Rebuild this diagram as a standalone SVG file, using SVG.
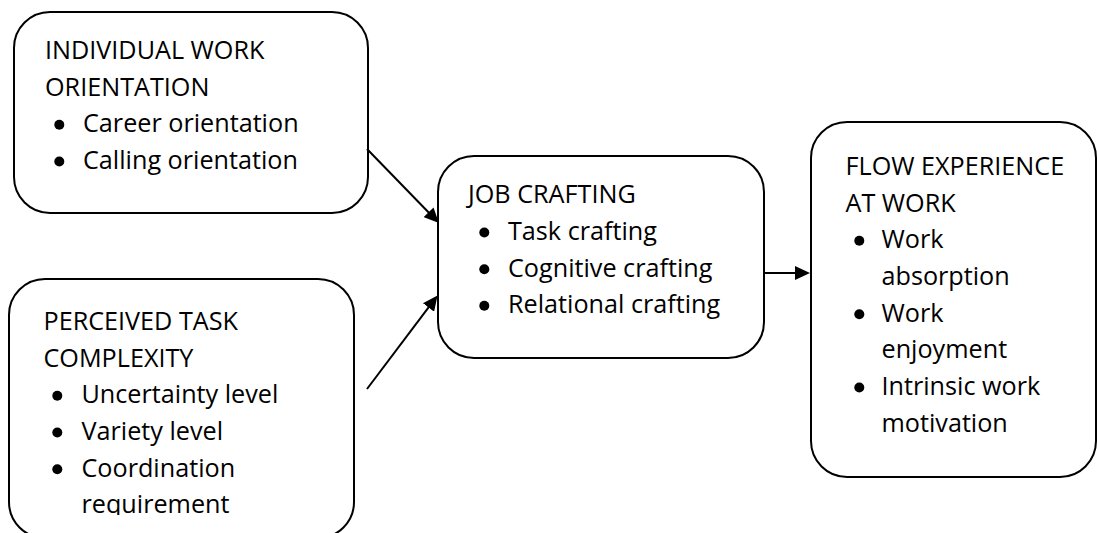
<svg xmlns="http://www.w3.org/2000/svg" width="1097" height="533" viewBox="0 0 1097 533">
  <style>
    .box { fill: #ffffff; stroke: #000000; stroke-width: 2; }
    .lbl { font-family: "Open Sans", "Liberation Sans", sans-serif; font-size: 25.2px; fill: #000000; }
    .dot { fill: #000000; }
    .link { fill: none; stroke: #000000; stroke-width: 2; marker-end: url(#head); }
  </style>
  <defs>
    <marker id="head" viewBox="0 0 15 14" refX="2" refY="7" markerWidth="15" markerHeight="14" markerUnits="userSpaceOnUse" orient="auto">
      <path d="M0,0 L15,7 L0,14 Z" fill="#000000"/>
    </marker>
    <!-- last line of the complexity box is cut at the page edge -->
    <clipPath id="pageCut">
      <rect x="0" y="0" width="1097" height="515"/>
    </clipPath>
  </defs>

  <rect x="0" y="0" width="1097" height="533" fill="#ffffff"/>

  <g id="individual-work-orientation">
    <rect class="box" x="14" y="12" width="354" height="201" rx="36" ry="36"/>
    <text class="lbl" x="45" y="59">INDIVIDUAL WORK</text>
    <text class="lbl" x="45" y="95.7">ORIENTATION</text>
    <circle class="dot" cx="59.3" cy="124.8" r="5"/>
    <text class="lbl" x="83" y="132.3">Career orientation</text>
    <circle class="dot" cx="59.3" cy="161.5" r="5"/>
    <text class="lbl" x="83" y="169">Calling orientation</text>
  </g>

  <g id="perceived-task-complexity">
    <rect class="box" x="9" y="279" width="345" height="259" rx="36" ry="36"/>
    <text class="lbl" x="43.5" y="330">PERCEIVED TASK</text>
    <text class="lbl" x="43.5" y="366.7">COMPLEXITY</text>
    <circle class="dot" cx="57.3" cy="395.8" r="5"/>
    <text class="lbl" x="81.5" y="403.3">Uncertainty level</text>
    <circle class="dot" cx="57.3" cy="432.5" r="5"/>
    <text class="lbl" x="81.5" y="440">Variety level</text>
    <circle class="dot" cx="57.3" cy="469.2" r="5"/>
    <text class="lbl" x="81.5" y="476.7">Coordination</text>
    <text class="lbl" x="81.5" y="513.4" clip-path="url(#pageCut)">requirement</text>
  </g>

  <g id="job-crafting">
    <rect class="box" x="438" y="156" width="326" height="202" rx="36" ry="36"/>
    <text class="lbl" x="468" y="203.3">JOB CRAFTING</text>
    <circle class="dot" cx="484.3" cy="232.5" r="5"/>
    <text class="lbl" x="508" y="240">Task crafting</text>
    <circle class="dot" cx="484.3" cy="269.2" r="5"/>
    <text class="lbl" x="508" y="276.7">Cognitive crafting</text>
    <circle class="dot" cx="484.3" cy="305.8" r="5"/>
    <text class="lbl" x="508" y="313.3">Relational crafting</text>
  </g>

  <g id="flow-experience-at-work">
    <rect class="box" x="811" y="122" width="285" height="355" rx="36" ry="36"/>
    <text class="lbl" x="845.5" y="175">FLOW EXPERIENCE</text>
    <text class="lbl" x="845.5" y="211.7">AT WORK</text>
    <circle class="dot" cx="859.3" cy="240.8" r="5"/>
    <text class="lbl" x="881.5" y="248.3">Work</text>
    <text class="lbl" x="881.5" y="285">absorption</text>
    <circle class="dot" cx="859.3" cy="314.2" r="5"/>
    <text class="lbl" x="881.5" y="321.7">Work</text>
    <text class="lbl" x="881.5" y="358.3">enjoyment</text>
    <circle class="dot" cx="859.3" cy="387.5" r="5"/>
    <text class="lbl" x="881.5" y="395">Intrinsic work</text>
    <text class="lbl" x="881.5" y="431.7">motivation</text>
  </g>

  <g id="connectors">
    <path class="link" d="M367,149 L429.9,213.7"/>
    <path class="link" d="M367,389 L429.7,305.9"/>
    <path class="link" d="M765,273 L797,273"/>
  </g>
</svg>
